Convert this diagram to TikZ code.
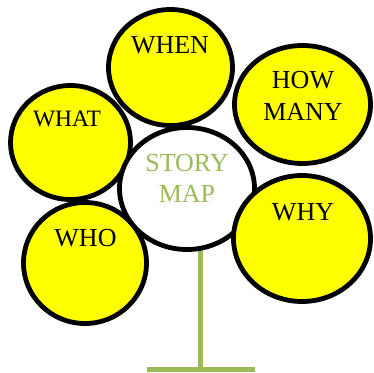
\documentclass[tikz,border=0pt]{standalone}
\usepackage{fontspec}
\setmainfont{Liberation Serif}
\usetikzlibrary{shapes.geometric}
\definecolor{petal}{HTML}{FFFF00}
\definecolor{leafgreen}{HTML}{9BBB59}
\begin{document}
\begin{tikzpicture}[x=1pt,y=-1pt,
  petalbox/.style={ellipse,draw=black,line width=4.8pt,fill=petal,inner sep=0pt},
  centerbox/.style={ellipse,draw=black,line width=4.8pt,fill=white,inner sep=0pt},
  word/.style={anchor=base,inner sep=0pt,font=\fontsize{26}{30}\selectfont},
  greenword/.style={word,text=leafgreen},
  stemline/.style={draw=leafgreen,line width=5pt}]
\useasboundingbox (0,0) rectangle (374,372);
% stem
\coordinate (stemtop) at (200,248);
\coordinate (stembase) at (200,369.5);
\coordinate (barleft) at (147,369.5);
\coordinate (barright) at (255,369.5);
\draw[stemline] (stemtop) -- (stembase);
\draw[stemline] (barleft) -- (barright);
% petals
\node[petalbox,minimum width=120pt,minimum height=114pt] (what) at (70.5,142.5) {};
\node[petalbox,minimum width=123pt,minimum height=121pt] (who) at (85,263) {};
\node[petalbox,minimum width=124pt,minimum height=116pt] (when) at (170.5,67.5) {};
\node[petalbox,minimum width=136pt,minimum height=118pt] (howmany) at (302.5,104.5) {};
\node[centerbox,minimum width=135pt,minimum height=122pt] (story) at (187,188.5) {};
\node[petalbox,minimum width=137pt,minimum height=126pt] (why) at (302,238.5) {};
% texts
\node[word] (twhen) at (170,53.5) {WHEN};
\node[word] (thow) at (303,88.3) {HOW};
\node[word] (tmany) at (303,120) {MANY};
\node[word,font=\fontsize{23.5}{27}\selectfont] (twhat) at (67,126.7) {WHAT};
\node[greenword] (tstory) at (187,171.5) {STORY};
\node[greenword] (tmap) at (187,202) {MAP};
\node[word] (twho) at (85.5,246.5) {WHO};
\node[word] (twhy) at (303,220) {WHY};
\end{tikzpicture}
\end{document}
